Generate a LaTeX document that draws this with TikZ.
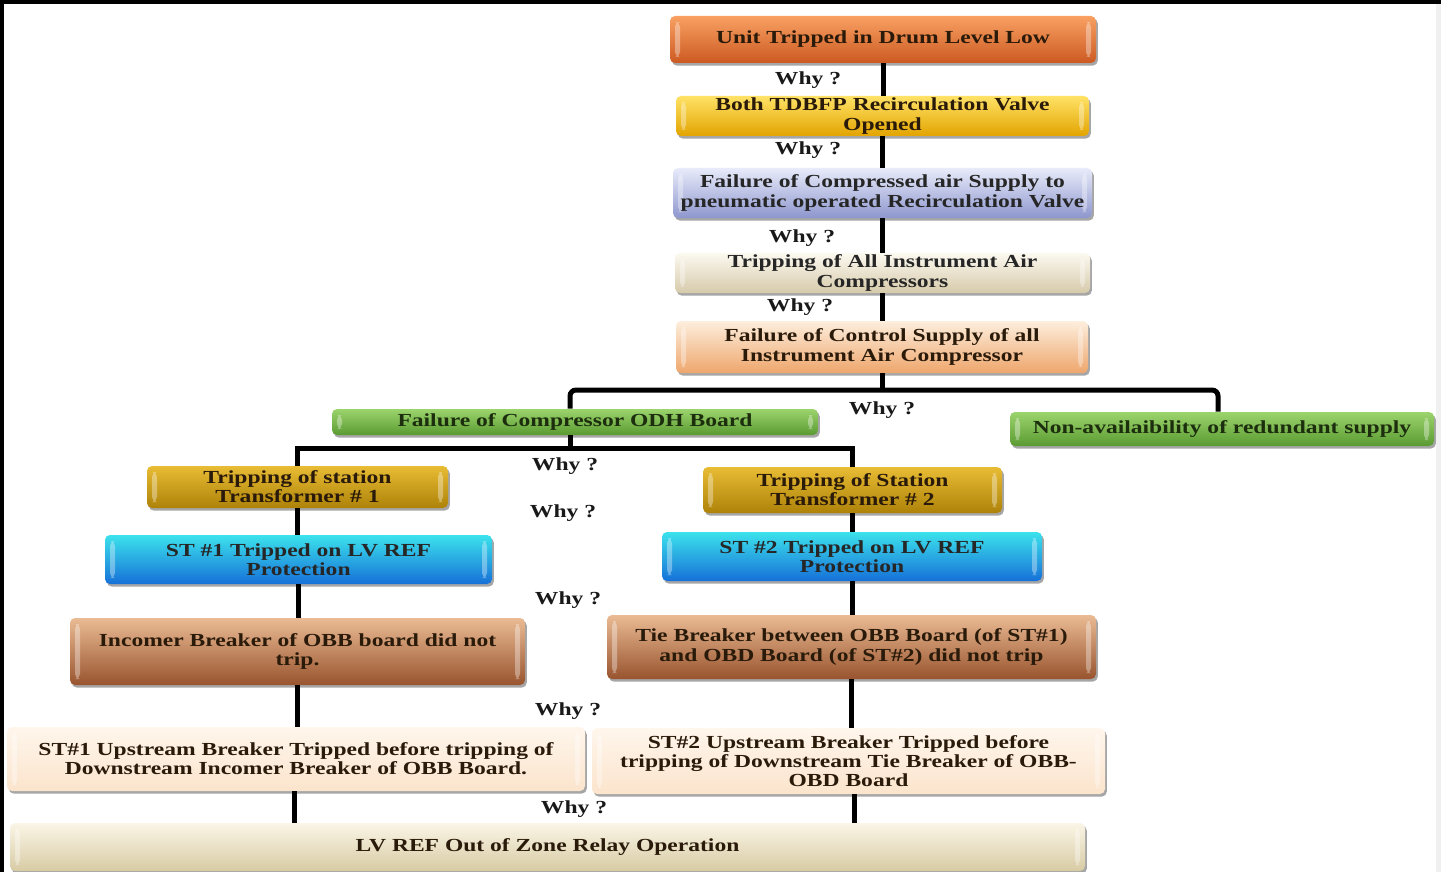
\documentclass[tikz,border=0pt]{standalone}
\usepackage{fontspec}
\setmainfont[FakeStretch=1.28]{Liberation Serif}
\usetikzlibrary{shadows,calc}
\definecolor{txt}{HTML}{2A1A0A}
\definecolor{txtg}{HTML}{1C2E0E}
\newcommand\bxf{\fontsize{9.2pt}{9.6pt}\selectfont}
\tikzset{
  box/.style={rounded corners=2.5pt, align=center, font=\bxf\bfseries, text=txt,
    inner sep=1pt, shading=axis,
    drop shadow={shadow xshift=0.9pt, shadow yshift=-1.3pt, opacity=0.35, fill=black},
    path picture={
      \fill[white,opacity=0.35] ([xshift=2.5pt,yshift=3pt]path picture bounding box.south west) rectangle ([xshift=5pt,yshift=-3pt]path picture bounding box.north west);
      \fill[white,opacity=0.35] ([xshift=-5pt,yshift=3pt]path picture bounding box.south east) rectangle ([xshift=-2.5pt,yshift=-3pt]path picture bounding box.north east);
    }},
  sz/.style 2 args={minimum width=#1*0.5pt, minimum height=#2*0.5pt},
  orangebox/.style={box, top color=c1t, middle color=c1m, bottom color=c1b, text=txt},
  yellowbox/.style={box, top color=c2t, middle color=c2m, bottom color=c2b},
  lavbox/.style={box, top color=c3t, middle color=c3m, bottom color=c3b, text=black!85},
  creambox/.style={box, top color=c4t, middle color=c4m, bottom color=c4b, text=black!85},
  peachbox/.style={box, top color=c5t, middle color=c5m, bottom color=c5b},
  greenbox/.style={box, top color=c6t, middle color=c6m, bottom color=c6b, text=txtg},
  goldbox/.style={box, top color=c8t, middle color=c8m, bottom color=c8b},
  bluebox/.style={box, top color=c10t, middle color=c10m, bottom color=c10b, text=black!85},
  copperbox/.style={box, top color=c12t, middle color=c12m, bottom color=c12b},
  lightbox/.style={box, top color=c14t, middle color=c14m, bottom color=c14b},
  beigebox/.style={box, top color=c16t, middle color=c16m, bottom color=c16b},
  why/.style={font=\bxf\bfseries, text=black!90, inner sep=0pt, yshift=-1pt},
  conn/.style={line width=2.5pt, black}
}
\definecolor{c1t}{HTML}{F9A062}\definecolor{c1m}{HTML}{F07A35}\definecolor{c1b}{HTML}{CC5A22}
\definecolor{c2t}{HTML}{FFE266}\definecolor{c2m}{HTML}{FFC914}\definecolor{c2b}{HTML}{E2A400}
\definecolor{c3t}{HTML}{E8EBFA}\definecolor{c3m}{HTML}{BAC1EC}\definecolor{c3b}{HTML}{8E97CE}
\definecolor{c4t}{HTML}{FCF9F0}\definecolor{c4m}{HTML}{F3EBD4}\definecolor{c4b}{HTML}{D6CAAA}
\definecolor{c5t}{HTML}{FDEEDD}\definecolor{c5m}{HTML}{F8BF86}\definecolor{c5b}{HTML}{EEA66C}
\definecolor{c6t}{HTML}{9CD46C}\definecolor{c6m}{HTML}{7ABD4A}\definecolor{c6b}{HTML}{5A9A32}
\definecolor{c8t}{HTML}{E8BC34}\definecolor{c8m}{HTML}{D6A214}\definecolor{c8b}{HTML}{AE8208}
\definecolor{c10t}{HTML}{3CE2EC}\definecolor{c10m}{HTML}{22B4EA}\definecolor{c10b}{HTML}{1670D8}
\definecolor{c12t}{HTML}{EABB94}\definecolor{c12m}{HTML}{C77A48}\definecolor{c12b}{HTML}{98542E}
\definecolor{c14t}{HTML}{FFF6EC}\definecolor{c14m}{HTML}{F8CFA2}\definecolor{c14b}{HTML}{FBE4CC}
\definecolor{c16t}{HTML}{FAF5E6}\definecolor{c16m}{HTML}{EFE4C4}\definecolor{c16b}{HTML}{D8CBA4}
\begin{document}
\begin{tikzpicture}[x=0.5pt,y=-0.5pt]
\useasboundingbox (0,0) rectangle (1441,872);
\fill[white] (0,0) rectangle (1441,872);
\fill[black] (0,0) rectangle (1441,4);
\fill[black] (0,0) rectangle (4,872);
\fill[black!6] (1436,4) rectangle (1441,872);

% nodes
\node[orangebox, sz={426}{47}] (n1) at (883,39.5) {Unit Tripped in Drum Level Low};
\node[yellowbox, sz={413}{40}] (n2) at (882.5,116) {Both TDBFP Recirculation Valve\\Opened};
\node[lavbox, sz={419}{50}] (n3) at (882.5,193) {Failure of Compressed air Supply to\\pneumatic operated Recirculation Valve};
\node[creambox, sz={415}{40}] (n4) at (882.5,273) {Tripping of All Instrument Air\\Compressors};
\node[peachbox, sz={412}{52}] (n5) at (882,347) {Failure of Control Supply of all\\Instrument Air Compressor};
\node[greenbox, sz={486}{26}] (n6) at (575,422) {Failure of Compressor ODH Board};
\node[greenbox, sz={424}{34}] (n7) at (1222,429) {Non-availaibility of redundant supply};
\node[goldbox, sz={301}{42}] (n8) at (297.5,487) {Tripping of station\\Transformer \# 1};
\node[goldbox, sz={299}{46}] (n9) at (852.5,490) {Tripping of Station\\Transformer \# 2};
\node[bluebox, sz={387}{49}] (n10) at (298.5,559.5) {ST \#1 Tripped on LV REF\\Protection};
\node[bluebox, sz={380}{49}] (n11) at (852,556.5) {ST \#2 Tripped on LV REF\\Protection};
\node[copperbox, sz={455}{67}] (n12) at (297.5,651.5) {Incomer Breaker of OBB board did not\\trip.};
\node[copperbox, sz={489}{64}] (n13) at (851.5,647) {Tie Breaker between OBB Board (of ST\#1)\\and OBD Board (of ST\#2) did not trip};
\node[lightbox, sz={578}{64}] (n14) at (296,759) {ST\#1 Upstream Breaker Tripped before tripping of\\Downstream Incomer Breaker of OBB Board.};
\node[lightbox, sz={513}{66}] (n15) at (848.5,761) {ST\#2 Upstream Breaker Tripped before\\tripping of Downstream Tie Breaker of OBB-\\OBD Board};
\node[beigebox, sz={1075}{48}] (n16) at (547.5,847) {LV REF Out of Zone Relay Operation};

% connectors
\coordinate (b1) at (0,390);
\coordinate (b2) at (0,448);
\draw[conn] (n1.south) -- (n1.south |- n2.north);
\draw[conn] (n2.south) -- (n2.south |- n3.north);
\draw[conn] (n3.south) -- (n3.south |- n4.north);
\draw[conn] (n4.south) -- (n4.south |- n5.north);
\draw[conn] (n5.south) -- (n5.south |- b1);
\draw[conn, rounded corners=3pt] ([xshift=-2.5pt]n6.north) |- ([xshift=-2pt]n7.north |- b1) -- ([xshift=-2pt]n7.north);
\draw[conn] ([xshift=-2.5pt]n6.south) -- ([xshift=-2.5pt]n6.south |- b2);
\draw[conn] (n8.north) |- (n9.north |- b2) -- (n9.north);
\draw[conn] (n8.south) -- (n8.south |- n10.north);
\draw[conn] (n10.south) -- (n10.south |- n12.north);
\draw[conn] (n12.south) -- (n12.south |- n14.north);
\draw[conn] ([xshift=-1pt]n14.south) -- ([xshift=-1pt]n14.south |- n16.north);
\draw[conn] (n9.south) -- (n9.south |- n11.north);
\draw[conn] (n11.south) -- (n11.south |- n13.north);
\draw[conn] (n13.south) -- (n13.south |- n15.north);
\draw[conn] ([xshift=3pt]n15.south) -- ([xshift=3pt]n15.south |- n16.north);

% why labels
\node[why] (w1) at (808,78) {Why ?};
\node[why] (w2) at (808,148) {Why ?};
\node[why] (w3) at (802,236) {Why ?};
\node[why] (w4) at (800,305) {Why ?};
\node[why] (w5) at (882,408) {Why ?};
\node[why] (w6) at (565,464) {Why ?};
\node[why] (w7) at (563,511) {Why ?};
\node[why] (w8) at (568,598) {Why ?};
\node[why] (w9) at (568,709) {Why ?};
\node[why] (w10) at (574,807) {Why ?};
\end{tikzpicture}
\end{document}
